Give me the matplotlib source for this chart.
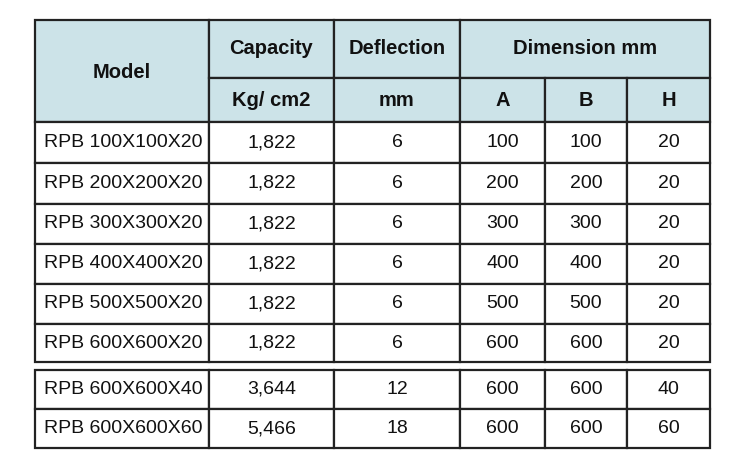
import matplotlib.pyplot as plt

models = ['RPB 100X100X20', 'RPB 200X200X20', 'RPB 300X300X20', 'RPB 400X400X20',
          'RPB 500X500X20', 'RPB 600X600X20', 'RPB 600X600X40', 'RPB 600X600X60']
capacity = ['1,822', '1,822', '1,822', '1,822', '1,822', '1,822', '3,644', '5,466']
deflection = ['6', '6', '6', '6', '6', '6', '12', '18']
dim_a = ['100', '200', '300', '400', '500', '600', '600', '600']
dim_b = ['100', '200', '300', '400', '500', '600', '600', '600']
dim_h = ['20', '20', '20', '20', '20', '20', '40', '60']

# layout in pixels
cols = [35, 209, 334, 460, 545, 627, 710]
top, mid, hbot = 20, 78, 122
block1 = [122, 163, 204, 244, 284, 324, 362]
block2 = [370, 409, 448]
fill = '#cce3e8'
lw = 1.6

plt.rcParams['font.family'] = ['Liberation Sans', 'DejaVu Sans']
fig = plt.figure(figsize=(7.32, 4.69), dpi=100)
ax = fig.add_axes([0, 0, 1, 1])
ax.set_xlim(0, 732)
ax.set_ylim(469, 0)
ax.axis('off')

def box(x0, y0, x1, y1, fc='white'):
    ax.add_patch(plt.Rectangle((x0, y0), x1 - x0, y1 - y0, fc=fc, ec='#222222', lw=lw))

def txt(x, y, s, bold=False, ha='center'):
    ax.text(x, y, s, ha=ha, va='center', fontsize=14.5 if bold else 14,
            color='#111111', fontweight='bold' if bold else 'normal')

# header
box(cols[0], top, cols[1], hbot, fill)
txt((cols[0] + cols[1]) / 2, (top + hbot) / 2 + 2, 'Model', True)
box(cols[1], top, cols[2], mid, fill)
txt((cols[1] + cols[2]) / 2, (top + mid) / 2, 'Capacity', True)
box(cols[2], top, cols[3], mid, fill)
txt((cols[2] + cols[3]) / 2, (top + mid) / 2, 'Deflection', True)
box(cols[3], top, cols[6], mid, fill)
txt((cols[3] + cols[6]) / 2, (top + mid) / 2, 'Dimension mm', True)
subs = ['Kg/ cm2', 'mm', 'A', 'B', 'H']
for i, s in enumerate(subs):
    box(cols[i + 1], mid, cols[i + 2], hbot, fill)
    txt((cols[i + 1] + cols[i + 2]) / 2, (mid + hbot) / 2, s, True)

rows = list(zip(models, capacity, deflection, dim_a, dim_b, dim_h))
edges = [(block1[i], block1[i + 1]) for i in range(6)] + \
        [(block2[i], block2[i + 1]) for i in range(2)]
for (y0, y1), row in zip(edges, rows):
    for j, val in enumerate(row):
        box(cols[j], y0, cols[j + 1], y1)
        if j == 0:
            txt(cols[0] + 9, (y0 + y1) / 2, val, ha='left')
        else:
            txt((cols[j] + cols[j + 1]) / 2, (y0 + y1) / 2, val)

fig.savefig('out.png', dpi=100)
